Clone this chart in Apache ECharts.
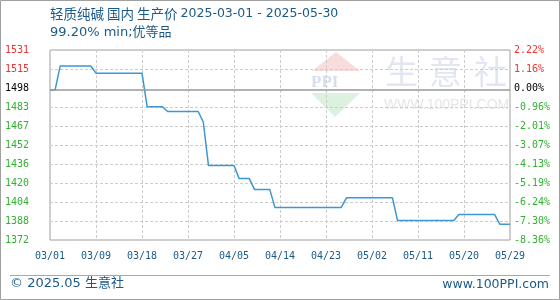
<!DOCTYPE html>
<html><head><meta charset="utf-8">
<script src="https://cdn.jsdelivr.net/npm/echarts@6/dist/echarts.min.js"></script>
<style>html,body{margin:0;padding:0;background:#fff}#c{width:560px;height:300px}</style>
</head><body><div id="c"></div>
<script>
const titleCn = '轻质纯碱 国内 生产价 ';
const titleDates = '2025-03-01 - 2025-05-30';
const subtitleText = '99.20% min;优等品';
const footerLeft = '© 2025.05 生意社';
const footerRight = 'www.100PPI.com';
const baseValue = 1498;
const prices = [
  1498, 1498,
  1518, 1518, 1518, 1518, 1518, 1518, 1518,
  1512, 1512, 1512, 1512, 1512, 1512, 1512, 1512, 1512, 1512,
  1484, 1484, 1484, 1484,
  1480, 1480, 1480, 1480, 1480, 1480, 1480,
  1471,
  1435, 1435, 1435, 1435, 1435, 1435,
  1424, 1424, 1424,
  1415, 1415, 1415, 1415,
  1400, 1400, 1400, 1400, 1400, 1400, 1400, 1400, 1400, 1400, 1400, 1400, 1400, 1400,
  1408, 1408, 1408, 1408, 1408, 1408, 1408, 1408, 1408, 1408,
  1389, 1389, 1389, 1389, 1389, 1389, 1389, 1389, 1389, 1389, 1389, 1389,
  1394, 1394, 1394, 1394, 1394, 1394, 1394, 1394,
  1386, 1386, 1386
];
const xTickLabels = ['03/01','03/09','03/18','03/27','04/05','04/14','04/23','05/02','05/11','05/20','05/29'];
const yTickLabels = ['1372','1388','1404','1420','1436','1452','1467','1483','1498','1515','1531'];
const pctTickLabels = ['-8.36%','-7.30%','-6.24%','-5.19%','-4.13%','-3.07%','-2.01%','-0.96%','0.00%','1.16%','2.22%'];
const yMin = 1372.8, yStep = 15.85, baseTickIndex = 8;

const categories = [];
{
  const d0 = new Date(Date.UTC(2025, 2, 1));
  for (let i = 0; i < prices.length; i++) {
    const d = new Date(d0.getTime() + i * 86400000);
    categories.push(String(d.getUTCMonth() + 1).padStart(2, '0') + '/' + String(d.getUTCDate()).padStart(2, '0'));
  }
}
const yMax = yMin + 10 * yStep;
const tickIdx = v => Math.round((v - yMin) / yStep);
const RED = '#ee3333', GREEN = '#33b033', BLACK = '#000000', BLUE = '#1b5a88';
const labColor = v => { const k = tickIdx(v); return k === baseTickIndex ? BLACK : (k > baseTickIndex ? RED : GREEN); };
const splitColors = yTickLabels.map((_, i) => i === baseTickIndex ? 'rgba(0,0,0,0)' : '#cccccc');
const MONO = '"DejaVu Sans Mono", monospace';
const SANS = '"DejaVu Sans", "Noto Sans CJK SC", sans-serif';

const chart = echarts.init(document.getElementById('c'), null, { renderer: 'canvas' });
chart.setOption({
  animation: false,
  backgroundColor: '#fff',
  grid: { left: 50, right: 50, top: 50, bottom: 60, show: true, borderColor: '#a0a0a0', borderWidth: 1, backgroundColor: 'transparent' },
  graphic: [
    { type: 'rect', silent: true, z: 100, shape: { x: 0.5, y: 0.5, width: 559, height: 299 }, style: { stroke: '#a0a0a0', fill: null, lineWidth: 1 } },
    { type: 'line', silent: true, shape: { x1: 10, y1: 275.5, x2: 550, y2: 275.5 }, style: { stroke: '#a8a8a8', lineWidth: 1 } },
    { type: 'text', left: 50, top: 7, style: {
        text: '{a|' + titleCn + '}{b|' + titleDates + '}',
        rich: {
          a: { font: '13.5px "Noto Sans CJK SC", sans-serif', fill: BLUE },
          b: { font: '12.5px "DejaVu Sans", sans-serif', fill: BLUE }
        }, fill: BLUE } },
    { type: 'text', left: 50, top: 26, style: { text: subtitleText, font: '13px ' + SANS, fill: BLUE } },
    { type: 'text', left: 10, top: 277, style: { text: footerLeft, font: '13px ' + SANS, fill: BLUE } },
    { type: 'text', right: 11, top: 278, style: { text: footerRight, font: '12.5px ' + SANS, fill: BLUE } },
    { type: 'polygon', silent: true, z: -5, shape: { points: [[336, 52], [312, 71], [360, 71]] }, style: { fill: '#f9dcdc' } },
    { type: 'text', silent: true, z: -5, x: 311, y: 74, style: { text: 'PPI', font: 'bold 17px "Liberation Serif", serif', fill: '#d6deee' } },
    { type: 'polygon', silent: true, z: -5, shape: { points: [[311, 93], [360, 93], [335, 117]] }, style: { fill: '#dcf2df' } },
    { type: 'text', silent: true, z: -5, x: 385, y: 55, style: { text: '生', font: '33px "Noto Sans CJK SC", sans-serif', fill: '#e2e6f0' } },
    { type: 'text', silent: true, z: -5, x: 429, y: 55, style: { text: '意', font: '33px "Noto Sans CJK SC", sans-serif', fill: '#e2e6f0' } },
    { type: 'text', silent: true, z: -5, x: 474, y: 55, style: { text: '社', font: '33px "Noto Sans CJK SC", sans-serif', fill: '#e2e6f0' } },
    { type: 'text', silent: true, z: -5, x: 384, y: 98, style: { text: 'WWW.100PPI.COM', font: '14px "Liberation Sans", sans-serif', fill: '#e6e6e6' } }
  ],
  xAxis: {
    type: 'category', data: categories, boundaryGap: false,
    axisLine: { show: false }, axisTick: { show: false },
    axisLabel: {
      interval: (i) => i % 9 === 0,
      formatter: (v, i) => xTickLabels[Math.round(i / 9)],
      margin: 11, color: BLUE, fontFamily: MONO, fontSize: 10
    },
    splitLine: { show: true, interval: 8, lineStyle: { color: '#cccccc', type: [3, 2], width: 1 } }
  },
  yAxis: [
    {
      type: 'value', min: yMin, max: yMax, interval: yStep, position: 'left',
      axisLine: { show: false }, axisTick: { show: false },
      axisLabel: { align: 'left', margin: 45, formatter: v => yTickLabels[tickIdx(v)], color: v => labColor(v), fontFamily: MONO, fontSize: 10 },
      splitLine: { show: true, lineStyle: { color: splitColors, type: [3, 2], width: 1 } }
    },
    {
      type: 'value', min: yMin, max: yMax, interval: yStep, position: 'right',
      axisLine: { show: false }, axisTick: { show: false },
      axisLabel: { align: 'left', margin: 4, formatter: v => pctTickLabels[tickIdx(v)], color: v => labColor(v), fontFamily: MONO, fontSize: 10 },
      splitLine: { show: false }
    }
  ],
  series: [{
    type: 'line', data: prices, yAxisIndex: 0, showSymbol: false, symbol: 'none',
    lineStyle: { color: '#3d97d3', width: 1.5 },
    markLine: {
      silent: true, symbol: ['none', 'none'], label: { show: false },
      lineStyle: { color: '#999999', type: 'solid', width: 1.5 },
      data: [{ yAxis: baseValue }]
    },
    z: 3
  }]
});
</script></body></html>
